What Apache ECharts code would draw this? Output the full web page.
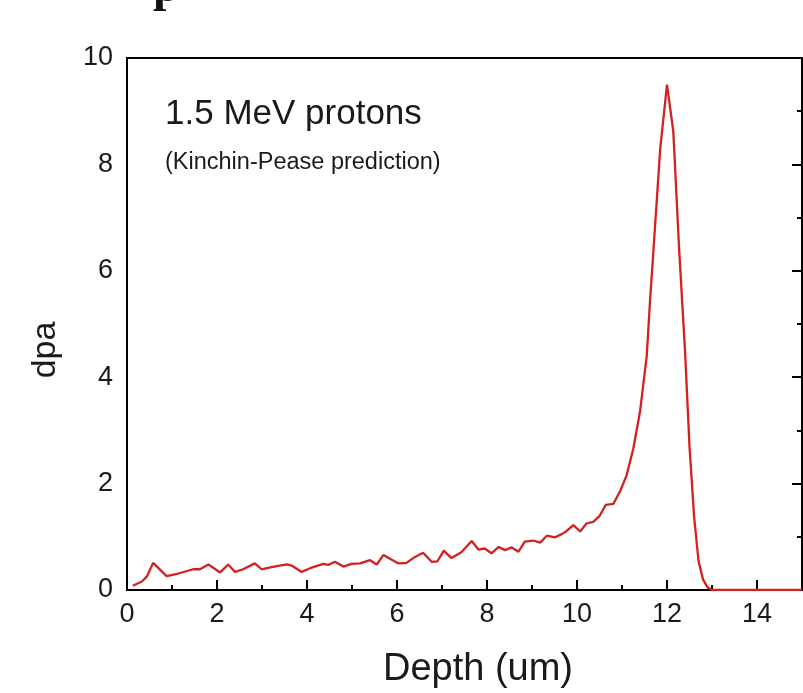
<!DOCTYPE html>
<html>
<head>
<meta charset="utf-8">
<script src="https://cdn.jsdelivr.net/npm/echarts@6/dist/echarts.min.js"></script>
<style>
html,body{margin:0;padding:0;background:#fff;}
#chart{width:803px;height:693px;}
</style>
</head>
<body>
<div id="chart"></div>
<script>
// Depth (um)
var depth = [0.13,0.33,0.44,0.58,0.88,1.14,1.47,1.62,1.81,2.07,2.25,2.4,2.58,2.84,2.99,3.21,3.55,3.66,3.88,4.07,4.36,4.47,4.62,4.81,4.99,5.18,5.4,5.55,5.7,6.03,6.21,6.36,6.58,6.77,6.9,7.04,7.21,7.43,7.66,7.81,7.95,8.1,8.26,8.4,8.55,8.7,8.84,9.03,9.18,9.33,9.51,9.66,9.77,9.92,10.07,10.21,10.36,10.5,10.64,10.81,10.96,11.1,11.25,11.4,11.55,11.62,11.7,11.85,12.0,12.14,12.27,12.4,12.5,12.6,12.7,12.8,12.9,13.0,15.0];
// dpa values
var dpa = [0.08,0.16,0.25,0.51,0.26,0.31,0.39,0.39,0.48,0.33,0.48,0.34,0.39,0.50,0.39,0.43,0.48,0.46,0.34,0.41,0.49,0.47,0.53,0.44,0.49,0.50,0.56,0.48,0.66,0.50,0.51,0.60,0.70,0.53,0.54,0.74,0.60,0.71,0.92,0.76,0.78,0.69,0.81,0.75,0.80,0.72,0.91,0.93,0.89,1.02,0.99,1.05,1.11,1.22,1.10,1.25,1.28,1.39,1.60,1.62,1.86,2.15,2.65,3.35,4.4,5.4,6.4,8.3,9.5,8.62,6.4,4.5,2.7,1.4,0.55,0.2,0.05,0,0];
var xTitle = 'Depth (um)';
var yTitle = 'dpa';
var note1 = '1.5 MeV protons';
var note2 = '(Kinchin-Pease prediction)';

var FONT = '"Liberation Sans", Arial, sans-serif';
var NARROW = '"Liberation Sans Narrow", "Arial Narrow", "Liberation Sans", sans-serif';
var pts = depth.map(function(d, i){ return [d, dpa[i]]; });
var chart = echarts.init(document.getElementById('chart'), null, {renderer:'canvas'});
var lineBlack = {show:true, lineStyle:{color:'#000', width:2}};
chart.setOption({
  backgroundColor:'#fff',
  animation:false,
  grid:{left:127, right:1, top:58, bottom:103, show:true, borderColor:'#000', borderWidth:2},
  xAxis:[
    {type:'value', min:0, max:15, interval:2, position:'bottom',
     axisLine:lineBlack,
     axisTick:{show:true, inside:true, length:10, lineStyle:{color:'#000', width:2}},
     axisLabel:{fontSize:27, color:'#1a1a1a', fontFamily:NARROW, margin:11, showMaxLabel:false},
     splitLine:{show:false}},
    {type:'value', min:0, max:15, interval:1, position:'bottom',
     axisLine:{show:false},
     axisTick:{show:true, inside:true, length:5, lineStyle:{color:'#000', width:2}},
     axisLabel:{show:false}, splitLine:{show:false}}
  ],
  yAxis:[
    {type:'value', min:0, max:10, interval:2, position:'left',
     axisLine:lineBlack,
     axisTick:{show:false},
     axisLabel:{fontSize:27, color:'#1a1a1a', fontFamily:NARROW, margin:14},
     splitLine:{show:false}},
    {type:'value', min:0, max:10, interval:2, position:'left', offset:-675,
     axisLine:lineBlack,
     axisTick:{show:true, inside:false, length:10, lineStyle:{color:'#000', width:2}},
     minorTick:{show:true, splitNumber:2, length:5, lineStyle:{color:'#000', width:2}},
     axisLabel:{show:false}, splitLine:{show:false}}
  ],
  graphic:[
    {type:'text', left:165, top:97, style:{text:note1, fontSize:35, fill:'#1a1a1a', fontFamily:FONT}},
    {type:'text', left:165, top:151, style:{text:note2, fontSize:23.5, fill:'#1a1a1a', fontFamily:FONT}},
    {type:'text', x:478, y:670, style:{text:xTitle, fontSize:38, fill:'#1a1a1a', fontFamily:FONT, align:'center', verticalAlign:'middle'}},
    {type:'text', x:46, y:350, rotation:Math.PI/2, style:{text:yTitle, fontSize:34, fill:'#1a1a1a', fontFamily:FONT, align:'center', verticalAlign:'middle'}},
    {type:'text', x:153, y:-35, style:{text:'p', fontSize:48, fontWeight:'bold', fill:'#111', fontFamily:'"Liberation Serif", "DejaVu Serif", serif'}}
  ],
  series:[{
    type:'line', data:pts, xAxisIndex:0, yAxisIndex:0,
    showSymbol:false, symbol:'none', smooth:false,
    lineStyle:{color:'#d42020', width:2.3}
  }]
});
</script>
</body>
</html>
